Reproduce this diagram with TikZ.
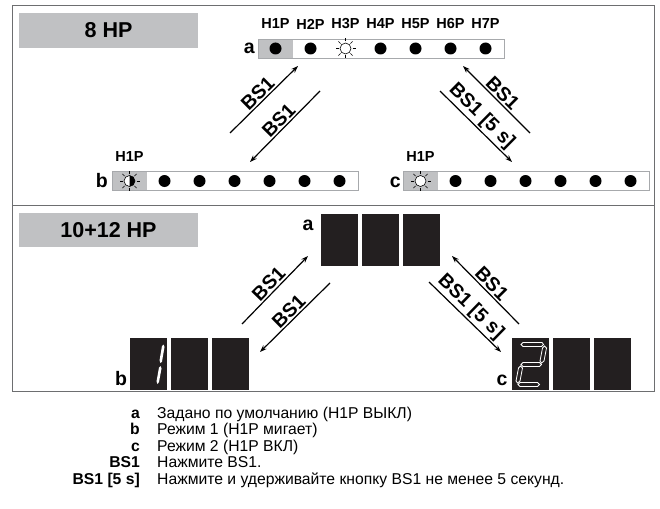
\documentclass[tikz,border=0pt]{standalone}
\usepackage{fontspec}
\setmainfont{Liberation Sans}
\usetikzlibrary{arrows.meta, positioning, calc}
\definecolor{panelgray}{HTML}{C0C1C3}
\definecolor{framegray}{HTML}{6D6E70}
\definecolor{stripgray}{HTML}{A7A9AC}
\definecolor{digitblack}{HTML}{231F20}
\tikzset{
	hpbox/.style={rectangle, fill=panelgray, minimum width=179pt, minimum height=35pt, inner sep=0pt, font=\bfseries\fontsize{21.5}{24}\selectfont},
	strip/.style={rectangle, draw=stripgray, line width=0.8pt, minimum width=246pt, minimum height=19pt, inner sep=0pt},
	graycell/.style={rectangle, fill=panelgray, minimum width=35pt, minimum height=19pt, inner sep=0pt, anchor=west},
	led/.style={circle, fill=black, minimum size=12pt, inner sep=0pt},
	hlabel/.style={font=\bfseries\fontsize{14.5}{16}\selectfont, inner sep=0pt},
	letter/.style={font=\bfseries\fontsize{19.5}{21}\selectfont, inner sep=0pt},
	digit/.style={rectangle, fill=digitblack, minimum width=37pt, minimum height=52pt, inner sep=0pt},
	arrow/.style={line width=1.2pt, -{Stealth[length=7pt, width=5pt]}},
	backarrow/.style={line width=1.2pt, {Stealth[length=7pt, width=5pt]}-},
	bslabel/.style={midway, sloped, above, inner sep=1.5pt, font=\bfseries\fontsize{19.5}{21}\selectfont},
	legkey/.style={anchor=base east, inner sep=0pt, font=\bfseries\fontsize{15.7}{17}\selectfont},
	legtext/.style={anchor=base west, inner sep=0pt, font=\fontsize{15.7}{17}\selectfont},
	segline/.style={draw=white, line width=0.8pt}
}
% LED lit / flashing: centre, fill of right half
\newcommand{\ledsun}[2]{%
	\fill[white] (#1) circle (5.5pt);
	\fill[#2] ($(#1)+(0,5.5pt)$) arc[start angle=90, end angle=-90, radius=5.5pt] -- cycle;
	\draw[line width=0.6pt] (#1) circle (5.5pt);
	\foreach \r in {0,45,...,315}
		\draw[line width=0.6pt] ($(#1)+(\r:7pt)$) -- ($(#1)+(\r:10pt)$);
}

\begin{document}
\begin{tikzpicture}[x=1pt, y=-1pt]
	\useasboundingbox (0,0) rectangle (660,508);
	
	% Marco
	\draw[framegray, line width=1pt] (12,6) rectangle (654,391);
	\draw[framegray, line width=1pt] (12,205) -- (654,205);
	
	% Panel superior: 8 HP
	\node (hp8) [hpbox] at (108.5,30.5) {8 HP};
	
	\node (cella) [graycell] at (258,48.5) {};
	\node (stripa) [strip] at (381,48.5) {};
	\foreach \i in {1,2,4,5,6,7}
		\node (leda\i) [led] at (240.5+35*\i,48.5) {};
	\ledsun{345.5,48.5}{white}
	\foreach \i in {1,...,7}
		\node (ha\i) [hlabel] at (240.5+35*\i,24) {H\i P};
	\node (la) [letter, anchor=east] at (255,48.5) {a};
	
	\node (cellb) [graycell] at (112,181) {};
	\node (stripb) [strip] at (235,181) {};
	\foreach \i in {2,...,7}
		\node (ledb\i) [led] at (94.5+35*\i,181) {};
	\ledsun{129.5,181}{black}
	\node (hb1) [hlabel] at (129.5,157) {H1P};
	\node (lb) [letter, anchor=east] at (108,181) {b};
	
	\node (cellc) [graycell] at (403,181) {};
	\node (stripc) [strip] at (526,181) {};
	\foreach \i in {2,...,7}
		\node (ledc\i) [led] at (385.5+35*\i,181) {};
	\ledsun{420.5,181}{white}
	\node (hc1) [hlabel] at (420.5,157) {H1P};
	\node (lc) [letter, anchor=east] at (401,182) {c};
	
	\coordinate (tl1s) at (230,133); \coordinate (tl1e) at (298,66);
	\coordinate (tl2s) at (250,162); \coordinate (tl2e) at (320,91);
	\coordinate (tr1s) at (463,66);  \coordinate (tr1e) at (530,133);
	\coordinate (tr2s) at (440,91);  \coordinate (tr2e) at (512,162);
	\draw [arrow] (tl1s) -- (tl1e) node [bslabel] {BS1};
	\draw [backarrow] (tl2s) -- (tl2e) node [bslabel] {BS1};
	\draw [backarrow] (tr1s) -- (tr1e) node [bslabel] {BS1};
	\draw [arrow] (tr2s) -- (tr2e) node [bslabel, pos=.47] {BS1 [5 s]};
	
	% Panel inferior: 10+12 HP
	\node (hp12) [hpbox, minimum height=34pt] at (108.5,230) {10+12 HP};
	
	\foreach \i in {0,1,2} {
		\node (da\i) [digit] at (339.5+41*\i,240) {};
		\node (db\i) [digit] at (148.5+41*\i,364) {};
		\node (dc\i) [digit] at (530.5+41*\i,364) {};
	}
	\node (lda) [letter] at (308,225) {a};
	\node (ldb) [letter] at (121,379) {b};
	\node (ldc) [letter] at (502,380) {c};
	
	% cifra 1
	\fill[white] (163.5,344.5) -- (164.5,347) -- (162,361.5) -- (160.5,363) -- (159.5,360.5) -- (162,346) -- cycle;
	\fill[white] (160.5,366) -- (161.5,368.5) -- (159,382) -- (157.5,384) -- (156.5,381.5) -- (159,367.5) -- cycle;
	% cifra 2
	\draw[segline] (521,344.5) -- (523,342.5) -- (542,342.5) -- (543.5,344.5) -- (541.5,346.5) -- (523,346.5) -- cycle;
	\draw[segline] (544.5,346) -- (546.5,348) -- (544,361) -- (541.5,363) -- (540,361) -- (542.5,348) -- cycle;
	\draw[segline] (521,364.5) -- (523,362.5) -- (539.5,362.5) -- (541.5,364.5) -- (539.5,366.5) -- (523,366.5) -- cycle;
	\draw[segline] (520.5,366) -- (522.5,368) -- (520,381) -- (517.5,383) -- (516,381) -- (518.5,368) -- cycle;
	\draw[segline] (518,384.5) -- (520,382.5) -- (537.5,382.5) -- (539.5,384.5) -- (537.5,386.5) -- (520,386.5) -- cycle;
	
	\coordinate (bl1s) at (242,324); \coordinate (bl1e) at (308,256);
	\coordinate (bl2s) at (260,352); \coordinate (bl2e) at (330,283);
	\coordinate (br1s) at (452,256); \coordinate (br1e) at (519,324);
	\coordinate (br2s) at (429,282); \coordinate (br2e) at (501,352);
	\draw [arrow] (bl1s) -- (bl1e) node [bslabel] {BS1};
	\draw [backarrow] (bl2s) -- (bl2e) node [bslabel] {BS1};
	\draw [backarrow] (br1s) -- (br1e) node [bslabel] {BS1};
	\draw [arrow] (br2s) -- (br2e) node [bslabel, pos=.47] {BS1 [5 s]};
	
	% Leyenda
	\node (ka) [legkey] at (140,418) {a};
	\node (ta) [legtext] at (157,418) {Задано по умолчанию (H1P ВЫКЛ)};
	\node (kb) [legkey] at (140,434.5) {b};
	\node (tb) [legtext] at (157,434.5) {Режим 1 (H1P мигает)};
	\node (kc) [legkey] at (140,451) {c};
	\node (tc) [legtext] at (157,451) {Режим 2 (H1P ВКЛ)};
	\node (kbs) [legkey] at (140,467.5) {BS1};
	\node (tbs) [legtext] at (157,467.5) {Нажмите BS1.};
	\node (kbs5) [legkey] at (140,484) {BS1 [5 s]};
	\node (tbs5) [legtext] at (157,484) {Нажмите и удерживайте кнопку BS1 не менее 5 секунд.};
\end{tikzpicture}
\end{document}
